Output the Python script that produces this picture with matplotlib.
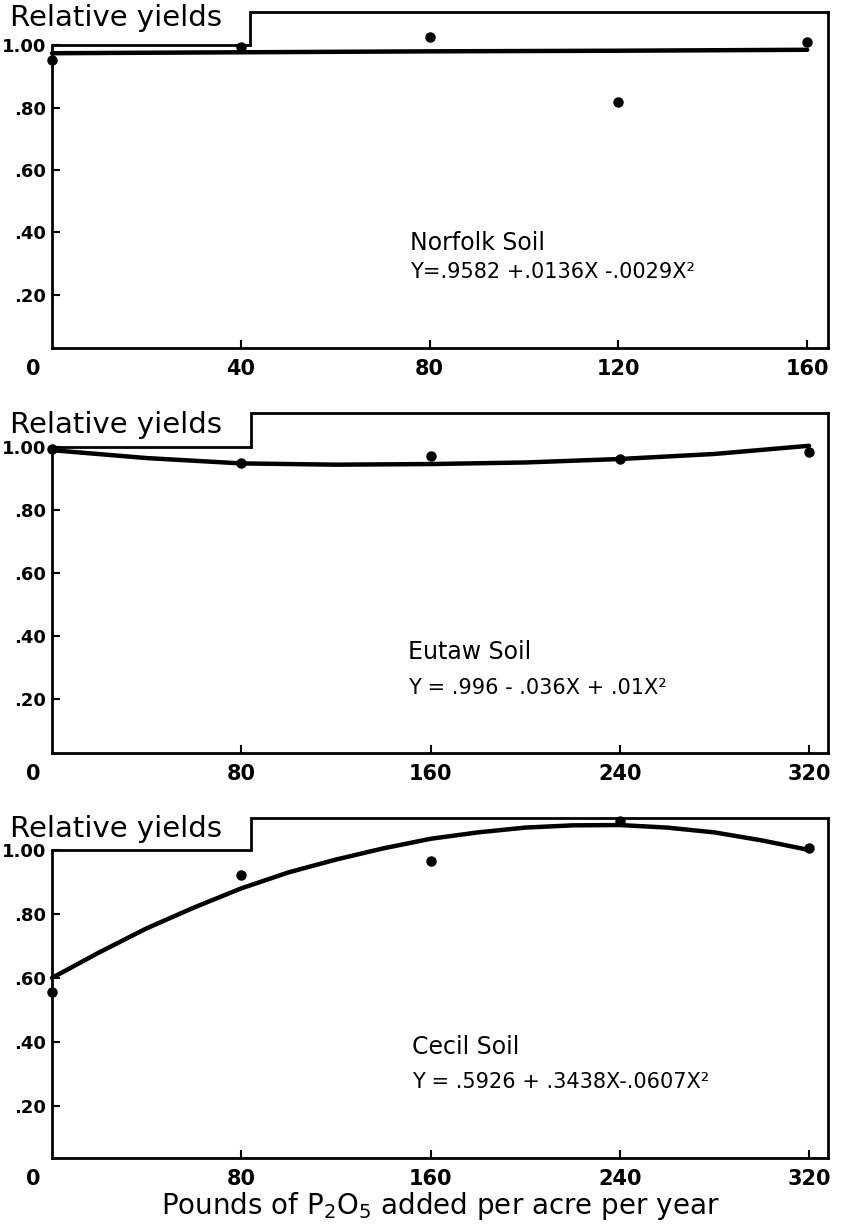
import matplotlib
matplotlib.use("Agg")
import matplotlib.pyplot as plt

plt.rcParams['font.family'] = ['DejaVu Sans']

# ---------------- data ----------------
soil_names = ["Norfolk Soil", "Eutaw Soil", "Cecil Soil"]
equations = ["Y=.9582 +.0136X -.0029X\u00b2",
             "Y = .996 - .036X + .01X\u00b2",
             "Y = .5926 + .3438X-.0607X\u00b2"]

norfolk_x = [0, 40, 80, 120, 160]
norfolk_obs = [0.952, 0.995, 1.026, 0.818, 1.010]
norfolk_fit_x = [0, 40, 80, 120, 160]
norfolk_fit = [0.974, 0.977, 0.980, 0.982, 0.985]

eutaw_x = [0, 80, 160, 240, 320]
eutaw_obs = [0.995, 0.948, 0.970, 0.962, 0.985]
eutaw_fit_x = [0, 40, 80, 120, 160, 200, 240, 280, 320]
eutaw_fit = [0.990, 0.965, 0.948, 0.944, 0.946, 0.951, 0.962, 0.978, 1.004]

cecil_x = [0, 80, 160, 240, 320]
cecil_obs = [0.555, 0.922, 0.965, 1.090, 1.005]
cecil_fit_x = [0, 20, 40, 60, 80, 100, 120, 140, 160, 180, 200, 220, 240,
               260, 280, 300, 320]
cecil_fit = [0.600, 0.680, 0.755, 0.820, 0.880, 0.930, 0.970, 1.005, 1.035,
             1.055, 1.070, 1.077, 1.078, 1.070, 1.055, 1.030, 1.000]

x_ticks = [[40, 80, 120, 160], [80, 160, 240, 320], [80, 160, 240, 320]]
y_ticks = [0.20, 0.40, 0.60, 0.80, 1.00]
y_ticklabels = [".20", ".40", ".60", ".80", "1.00"]
x_label = r"Pounds of P$_2$O$_5$ added per acre per year"
y_title = "Relative yields"

obs_x = [norfolk_x, eutaw_x, cecil_x]
obs_y = [norfolk_obs, eutaw_obs, cecil_obs]
fit_x = [norfolk_fit_x, eutaw_fit_x, cecil_fit_x]
fit_y = [norfolk_fit, eutaw_fit, cecil_fit]

# ---------------- layout ----------------
W, H = 850, 1228
fig = plt.figure(figsize=(W / 100, H / 100), dpi=100)

def fx(px):
    return px / W

def fy(py):
    return 1 - py / H

panel_px = [(12, 348), (413, 753), (818, 1158)]  # top, bottom in pixels
ylims = [(0.030, 1.106), (0.029, 1.108), (0.037, 1.100)]
xmaxes = [164.4, 328, 328]
steps = [42, 84, 84]
text_px = [(410, 243, 272), (408, 652, 688), (412, 1047, 1082)]
title_py = [18, 425, 829]

for i in range(3):
    top, bot = panel_px[i]
    ax = fig.add_axes([fx(52), fy(bot), fx(776), (bot - top) / H])
    ax.set_xlim(0, xmaxes[i])
    ax.set_ylim(*ylims[i])
    y0, y1 = ylims[i]
    xm = xmaxes[i]
    for s in ["top", "left"]:
        ax.spines[s].set_visible(False)
    for s in ["bottom", "right"]:
        ax.spines[s].set_linewidth(2.0)
    # notched frame
    ax.plot([0, 0, steps[i], steps[i], xm], [y0, 1.0, 1.0, y1, y1],
            color="black", lw=2.0, clip_on=False, solid_joinstyle="miter",
            zorder=3)
    # fitted curve
    ax.plot(fit_x[i], fit_y[i], color="black", lw=3.2,
            solid_capstyle="round", clip_on=False, zorder=4)
    # observed points
    ax.plot(obs_x[i], obs_y[i], "o", color="black", ms=6.5,
            clip_on=False, zorder=5)

    ax.set_yticks(y_ticks)
    ax.set_yticklabels(y_ticklabels)
    ax.set_xticks(x_ticks[i])
    ax.set_xticklabels([str(t) for t in x_ticks[i]])
    ax.tick_params(axis="both", direction="in", length=6, width=1.5)
    ax.tick_params(axis="y", pad=4, labelsize=13)
    ax.tick_params(axis="x", pad=8, labelsize=15)
    for lab in ax.get_xticklabels() + ax.get_yticklabels():
        lab.set_fontweight("bold")
    # zero label at corner
    fig.text(fx(33), fy(bot + 21), "0", ha="center", va="center",
             fontsize=15, fontweight="bold")

    # Relative yields title
    fig.text(fx(10), fy(title_py[i]), y_title, ha="left", va="center",
             fontsize=21)
    # soil name and equation
    tx, ty1, ty2 = text_px[i]
    fig.text(fx(tx), fy(ty1), soil_names[i], ha="left", va="center",
             fontsize=17)
    fig.text(fx(tx), fy(ty2), equations[i], ha="left", va="center",
             fontsize=15)

fig.text(fx(440), fy(1206), x_label, ha="center", va="center", fontsize=20)

fig.savefig("out.png", dpi=100, facecolor="white")
